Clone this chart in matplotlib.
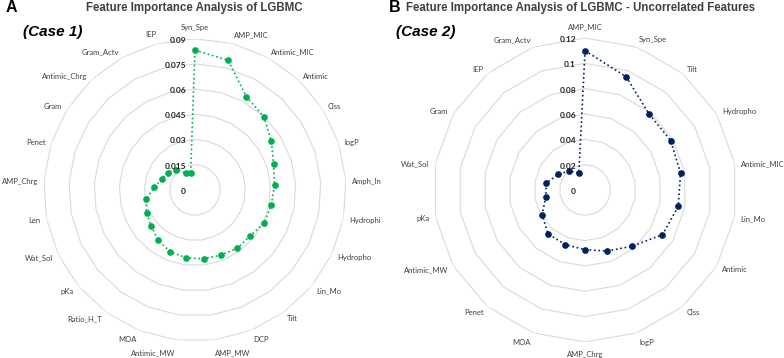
import matplotlib
matplotlib.use("Agg")
import matplotlib.pyplot as plt
import numpy as np

FEATURES_1 = ["Syn_Spe", "AMP_MIC", "Antimic_MIC", "Antimic", "Clss", "logP", "Amph_In",
              "Hydrophi", "Hydropho", "Lin_Mo", "Tilt", "DCP", "AMP_MW", "Antimic_MW", "MOA",
              "Ratio_H_T", "pKa", "Wat_Sol", "Len", "AMP_Chrg", "Penet", "Gram",
              "Antimic_Chrg", "Gram_Actv", "IEP"]
IMPORTANCE_1 = [0.0833, 0.0796, 0.0634, 0.0599, 0.0539, 0.0492, 0.0475, 0.0462, 0.0457,
                0.0427, 0.0429, 0.0417, 0.0413, 0.0407, 0.0397, 0.0371, 0.0338, 0.0318,
                0.0297, 0.0244, 0.0209, 0.0193, 0.0164, 0.0114, 0.0104]
TICKS_1 = [0, 0.015, 0.03, 0.045, 0.06, 0.075, 0.09]
TICK_LABELS_1 = ["0", "0.015", "0.03", "0.045", "0.06", "0.075", "0.09"]

FEATURES_2 = ["AMP_MIC", "Syn_Spe", "Tilt", "Hydropho", "Antimic_MIC", "Lin_Mo", "Antimic",
              "Clss", "logP", "AMP_Chrg", "MOA", "Penet", "Antimic_MW", "pKa", "Wat_Sol",
              "Gram", "IEP", "Gram_Actv"]
IMPORTANCE_2 = [0.110, 0.0951, 0.0785, 0.0781, 0.0766, 0.0747, 0.0706, 0.0579, 0.0513,
                0.0471, 0.0458, 0.0453, 0.0392, 0.0314, 0.0311, 0.0245, 0.0198, 0.0142]
TICKS_2 = [0, 0.02, 0.04, 0.06, 0.08, 0.1, 0.12]
TICK_LABELS_2 = ["0", "0.02", "0.04", "0.06", "0.08", "0.1", "0.12"]

GRID_COLOR = "#d9d9d9"
LABEL_FONT = "Lato"
PT = 0.72  # points per pixel at 100 dpi


def radar(ax, features, values, ticks, tick_labels, color):
    n = len(features)
    theta = np.arange(n) * 2 * np.pi / n
    ax.set_theta_zero_location("N")
    ax.set_theta_direction(-1)
    ax.set_ylim(0, ticks[-1])
    ax.grid(False)
    ax.spines["polar"].set_visible(False)
    ax.set_yticks([])
    ax.set_xticks([])

    closed = np.append(theta, theta[0])
    for level in ticks[1:]:
        ax.plot(closed, [level] * (n + 1), color=GRID_COLOR, lw=0.8, zorder=1)

    vals = np.append(values, values[0])
    ax.plot(closed, vals, color=color, ls=":", lw=1.2, zorder=2)
    ax.plot(theta, values, "o", color=color, ms=3.8, zorder=3)

    # category labels just outside the outer ring, Excel style alignment
    for t, name in zip(theta, features):
        s, c = np.sin(t), np.cos(t)
        ha = "center" if abs(s) < 1e-6 else ("left" if s > 0 else "right")
        dy = 1 + 6 * np.sign(-c) * abs(c) ** 12
        ax.annotate(name, xy=(t, ticks[-1]),
                    xytext=(6 * s * PT, (6 * c - dy) * PT), textcoords="offset points",
                    ha=ha, va="center", fontsize=5.5, family=LABEL_FONT, color="#404040")

    for level, lab in zip(ticks, tick_labels):
        ax.annotate(lab, xy=(0, level), xytext=(-6.5, -1), textcoords="offset points",
                    ha="right", va="center", fontsize=6, fontweight="bold",
                    family=LABEL_FONT, color="#202020")


fig = plt.figure(figsize=(7.84, 3.58), dpi=100)
ax1 = fig.add_axes([0.0558, 0.0470, 0.3858, 0.8447], projection="polar")
ax2 = fig.add_axes([0.5523, 0.0447, 0.3878, 0.8492], projection="polar")

radar(ax1, FEATURES_1, IMPORTANCE_1, TICKS_1, TICK_LABELS_1, "#00b050")
radar(ax2, FEATURES_2, IMPORTANCE_2, TICKS_2, TICK_LABELS_2, "#002060")

title_kw = dict(fontsize=8.3, fontweight="bold", family="Liberation Sans", color="#404040",
                ha="center", va="center")
fig.text(194 / 784, 1 - 8 / 358, "Feature Importance Analysis of LGBMC", **title_kw)
fig.text(581 / 784, 1 - 8 / 358,
         "Feature Importance Analysis of LGBMC - Uncorrelated Features", **title_kw)

panel_kw = dict(fontsize=11.5, fontweight="bold", family="Liberation Sans", va="center")
fig.text(6 / 784, 1 - 7.5 / 358, "A", **panel_kw)
fig.text(389 / 784, 1 - 7.5 / 358, "B", **panel_kw)

case_kw = dict(fontsize=11, fontweight="bold", style="italic", family="Liberation Sans",
               va="center")
fig.text(23 / 784, 1 - 32 / 358, "(Case 1)", **case_kw)
fig.text(396 / 784, 1 - 32 / 358, "(Case 2)", **case_kw)

fig.savefig("out.png", dpi=100)
